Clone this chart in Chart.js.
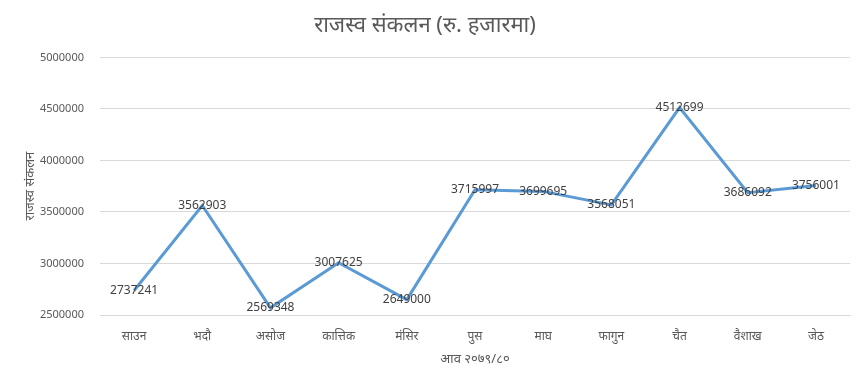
<!DOCTYPE html>
<html>
<head>
<meta charset="utf-8">
<title>राजस्व संकलन</title>
<script src="https://cdn.jsdelivr.net/npm/chart.js@4/dist/chart.umd.min.js"></script>
<style>
  body { margin: 0; background: #fff; }
</style>
</head>
<body>
<canvas id="revenueChart" width="867" height="387"></canvas>
<script>
// months of FY 2079/80
const months = ['साउन', 'भदौ', 'असोज', 'कात्तिक', 'मंसिर', 'पुस', 'माघ', 'फागुन', 'चैत', 'वैशाख', 'जेठ'];
// revenue collection, in thousand rupees
const revenue = [2737241, 3562903, 2569348, 3007625, 2649000, 3715997, 3699695, 3568051, 4512699, 3686092, 3756001];
const yTicks = [2500000, 3000000, 3500000, 4000000, 4500000, 5000000];

const fontFamily = "'Noto Sans', 'Noto Sans Devanagari', 'DejaVu Sans', sans-serif";

// write the value on top of each point, like Excel's centered data labels
const pointLabels = {
    id: 'pointLabels',
    afterDatasetsDraw(chart) {
        const ctx = chart.ctx;
        const meta = chart.getDatasetMeta(0);
        ctx.save();
        ctx.font = '12px ' + fontFamily;
        ctx.fillStyle = '#404040';
        ctx.textAlign = 'center';
        ctx.textBaseline = 'middle';
        meta.data.forEach(function(pt, i) {
            ctx.fillText(String(chart.data.datasets[0].data[i]), pt.x, pt.y);
        });
        ctx.restore();
    }
};

document.addEventListener('DOMContentLoaded', function() {
    let canvas = document.getElementById('revenueChart');

    new Chart(canvas, {
        type: 'line',
        data: {
            labels: months,
            datasets: [{
                data: revenue,
                borderColor: '#5B9BD5',
                borderWidth: 3,
                pointRadius: 0,
                tension: 0,
                fill: false
            }]
        },
        options: {
            responsive: false,
            animation: false,
            layout: {
                padding: { left: 0, right: 17, top: 0, bottom: 0 }
            },
            plugins: {
                legend: { display: false },
                tooltip: { enabled: false },
                title: {
                    display: true,
                    text: 'राजस्व संकलन (रु. हजारमा)',
                    color: '#595959',
                    font: { family: fontFamily, size: 22, weight: 'normal' },
                    padding: { top: 13, bottom: 18 }
                }
            },
            scales: {
                x: {
                    offset: true,
                    grid: { display: false },
                    border: { color: '#D9D9D9' },
                    ticks: {
                        color: '#595959',
                        font: { family: fontFamily, size: 12 },
                        padding: 6,
                        maxRotation: 0
                    },
                    title: {
                        display: true,
                        text: 'आव २०७९/८०',
                        color: '#595959',
                        font: { family: fontFamily, size: 13 },
                        padding: { top: 0, bottom: 20 }
                    },
                    afterFit(scale) {
                        scale.height = 72;
                    }
                },
                y: {
                    min: 2500000,
                    max: 5000000,
                    afterBuildTicks(scale) {
                        scale.ticks = yTicks.map(v => ({ value: v }));
                    },
                    grid: { color: '#D9D9D9', drawTicks: false },
                    border: { display: false },
                    ticks: {
                        color: '#595959',
                        font: { family: fontFamily, size: 11 },
                        padding: 16,
                        callback: v => String(v)
                    },
                    title: {
                        display: true,
                        text: 'राजस्व संकलन',
                        color: '#595959',
                        font: { family: fontFamily, size: 13 },
                        padding: { top: 22, bottom: 0 }
                    },
                    afterFit(scale) {
                        scale.width = 100;
                    }
                }
            }
        },
        plugins: [pointLabels]
    });
});
</script>
</body>
</html>
